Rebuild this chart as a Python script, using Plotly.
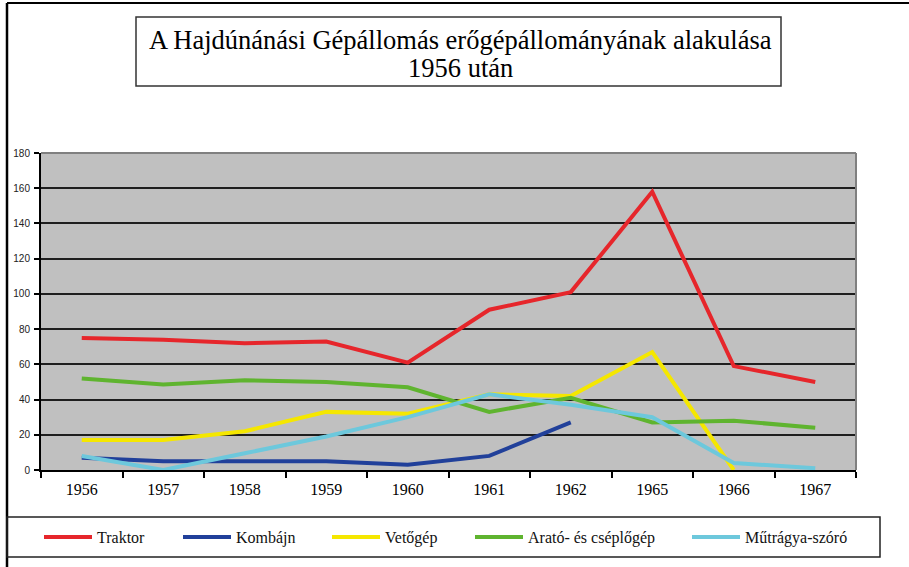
import plotly.graph_objects as go

years = ["1956", "1957", "1958", "1959", "1960", "1961", "1962", "1965", "1966", "1967"]
traktor = [75, 74, 72, 73, 61, 91, 101, 158, 59, 50]
kombajn = [7, 5, 5, 5, 3, 8, 27, None, None, None]
vetogep = [17, 17, 22, 33, 32, 43, 42, 67, 0, None]
arato = [52, 48.5, 51, 50, 47, 33, 41, 27, 28, 24]
mutragya = [8, 0, 9.5, 19, 30, 43, 37, 30, 4, 1]

names = ["Traktor", "Kombájn", "Vetőgép", "Arató- és cséplőgép", "Műtrágya-szóró"]
series = [traktor, kombajn, vetogep, arato, mutragya]
colors = ["#e6262b", "#21409a", "#f5e700", "#5fb42f", "#6dc8dc"]

title_line1 = "A Hajdúnánási Gépállomás erőgépállományának alakulása"
title_line2 = "1956 után"

W, H = 909, 567
L, R, T, B = 41, 856, 153, 470


def px2x(px):
    return (px - L) / (R - L)


def py2y(py):
    return (B - py) / (B - T)


serif = "Liberation Serif, Times New Roman, serif"

fig = go.Figure()
legend_starts = [44, 183, 332, 475, 692]
legend_names = ["legend", "legend2", "legend3", "legend4", "legend5"]
for name, vals, col, lg in zip(names, series, colors, legend_names):
    fig.add_trace(go.Scatter(
        x=years, y=vals, name=name, mode="lines",
        line=dict(color=col, width=4),
        connectgaps=False, legend=lg,
    ))

layout_legends = {}
for lg, sx in zip(legend_names, legend_starts):
    layout_legends[lg] = dict(
        x=px2x(sx - 5), xanchor="left",
        y=py2y(537), yanchor="middle",
        orientation="h", bgcolor="rgba(0,0,0,0)", borderwidth=0,
        itemwidth=48, font=dict(family=serif, size=16, color="#111"),
        itemclick=False, itemdoubleclick=False,
    )

shapes = [
    # outer frame (top and left)
    dict(type="line", xref="paper", yref="paper", x0=px2x(7), x1=px2x(909), y0=py2y(3), y1=py2y(3),
         line=dict(color="#000", width=2)),
    dict(type="line", xref="paper", yref="paper", x0=px2x(7), x1=px2x(7), y0=py2y(3), y1=py2y(567),
         line=dict(color="#000", width=2.5)),
    # title box
    dict(type="rect", xref="paper", yref="paper", x0=px2x(136), x1=px2x(781), y0=py2y(86), y1=py2y(17),
         line=dict(color="#333", width=1.5), fillcolor="rgba(0,0,0,0)"),
    # legend box
    dict(type="rect", xref="paper", yref="paper", x0=px2x(7), x1=px2x(880), y0=py2y(557), y1=py2y(517),
         line=dict(color="#222", width=1.5), fillcolor="rgba(0,0,0,0)"),
    # plot area top and right border (gray)
    dict(type="line", xref="paper", yref="paper", x0=0, x1=1, y0=1, y1=1,
         line=dict(color="#808080", width=2)),
    dict(type="line", xref="paper", yref="paper", x0=1, x1=1, y0=0, y1=1,
         line=dict(color="#808080", width=2)),
]

annotations = [
    dict(text=title_line1, xref="paper", yref="paper", x=px2x(460), y=py2y(40),
         xanchor="center", yanchor="middle", showarrow=False,
         font=dict(family=serif, size=26.5, color="#000")),
    dict(text=title_line2, xref="paper", yref="paper", x=px2x(460), y=py2y(68),
         xanchor="center", yanchor="middle", showarrow=False,
         font=dict(family=serif, size=26.5, color="#000")),
]

fig.update_layout(
    width=W, height=H,
    margin=dict(l=L, r=W - R, t=T, b=H - B, pad=0),
    paper_bgcolor="white", plot_bgcolor="#c0c0c0",
    showlegend=True,
    shapes=shapes, annotations=annotations,
    **layout_legends,
)

fig.update_xaxes(
    type="category", categoryorder="array", categoryarray=years,
    range=[-0.5, len(years) - 0.5], autorange=False,
    showgrid=False, showline=True, linecolor="#000", linewidth=2,
    ticks="outside", tickson="boundaries", ticklen=6, tickwidth=1.5, tickcolor="#000",
    tickfont=dict(family=serif, size=16, color="#000"),
    ticklabelstandoff=4,
)
fig.update_yaxes(
    range=[0, 180], dtick=20, tick0=0,
    showgrid=True, gridcolor="#1e1e1e", gridwidth=1.5,
    zeroline=False,
    showline=True, linecolor="#000", linewidth=2,
    ticks="outside", ticklen=5, tickwidth=1.5, tickcolor="#000",
    tickfont=dict(family="Liberation Sans, Arial, sans-serif", size=10, color="#222"),
    ticklabelstandoff=2,
)

fig.write_html("out.html", config={"displayModeBar": False},
               post_script="document.body.style.margin='0px';")
